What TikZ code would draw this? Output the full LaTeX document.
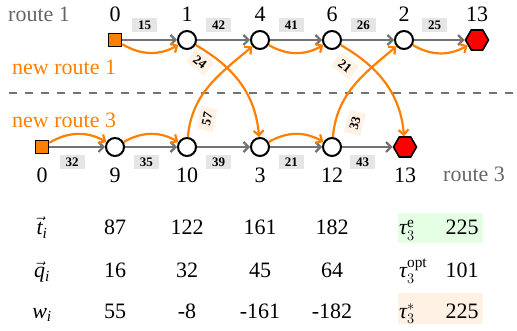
\documentclass[tikz,border=0pt]{standalone}
\usepackage{amsmath}
\usepackage{fontspec}
\setmainfont{Liberation Serif}
\usetikzlibrary{arrows.meta,shapes.geometric}
\begin{document}
\begin{tikzpicture}[x=1pt,y=1pt,
  every node/.style={font=\fontsize{22}{26}\selectfont, inner sep=0pt},
  stop/.style={circle, draw=black, fill=white, line width=2pt, minimum size=18pt},
  depot/.style={rectangle, draw=black, fill=orange, line width=1.6pt, minimum size=13pt},
  sink/.style={regular polygon, regular polygon sides=6, draw=black, fill=red, line width=1.6pt, minimum size=23pt},
  gedge/.style={draw=black!55, line width=2.2pt, -{Straight Barb[length=5pt,width=10pt]}},
  oedge/.style={draw=orange, line width=2.2pt, -{Straight Barb[length=5pt,width=10pt]}},
  wlab/.style={fill=black!10, font=\fontsize{13}{15}\bfseries\selectfont, inner xsep=6pt, inner ysep=3pt},
  clab/.style={fill=orange!10, font=\fontsize{13}{15}\bfseries\selectfont, inner xsep=5pt, inner ysep=4pt},
  rtxt/.style={text=black!60, anchor=base west},
  otxt/.style={text=orange, anchor=base west},
  num/.style={anchor=base},
]
\useasboundingbox (0,0) rectangle (517,-331);

% dashed separator
\coordinate (dl) at (9,-93);
\coordinate (dr) at (517,-93);
\draw[black!55, line width=2.5pt, dash pattern=on 8pt off 8pt] (dl) -- (dr);

% texts
\node[rtxt] (r1) at (8,-22) {route 1};
\node[otxt] (nr1) at (12,-75) {new route 1};
\node[otxt] (nr3) at (12,-128) {new route 3};
\node[rtxt] (r3) at (443,-182) {route 3};

% top route nodes
\node[depot] (A0) at (115,-40) {};
\node[stop] (A1) at (187,-40) {};
\node[stop] (A4) at (260,-40) {};
\node[stop] (A6) at (332,-40) {};
\node[stop] (A2) at (404,-40) {};
\node[sink] (A13) at (477,-40) {};
\node[num] (tA0) at (115,-22) {0};
\node[num] (tA1) at (187,-22) {1};
\node[num] (tA4) at (260,-22) {4};
\node[num] (tA6) at (332,-22) {6};
\node[num] (tA2) at (404,-22) {2};
\node[num] (tA13) at (477,-22) {13};

% bottom route nodes
\node[depot] (B0) at (42,-147) {};
\node[stop] (B9) at (115,-147) {};
\node[stop] (B10) at (187,-147) {};
\node[stop] (B3) at (260,-147) {};
\node[stop] (B12) at (332,-147) {};
\node[sink] (B13) at (405,-147) {};
\node[num] (tB0) at (42,-183) {0};
\node[num] (tB9) at (115,-183) {9};
\node[num] (tB10) at (187,-183) {10};
\node[num] (tB3) at (260,-183) {3};
\node[num] (tB12) at (332,-183) {12};
\node[num] (tB13) at (405,-183) {13};

% gray route edges
\draw[gedge] (A0) -- node[wlab, pos=0.41, yshift=15pt] {15} (A1);
\draw[gedge] (A1) -- node[wlab, pos=0.41, yshift=15pt] {42} (A4);
\draw[gedge] (A4) -- node[wlab, pos=0.41, yshift=15pt] {41} (A6);
\draw[gedge] (A6) -- node[wlab, pos=0.41, yshift=15pt] {26} (A2);
\draw[gedge] (A2) -- node[wlab, pos=0.41, yshift=15pt] {25} (A13);
\draw[gedge] (B0) -- node[wlab, pos=0.41, yshift=-15pt] {32} (B9);
\draw[gedge] (B9) -- node[wlab, pos=0.41, yshift=-15pt] {35} (B10);
\draw[gedge] (B10) -- node[wlab, pos=0.41, yshift=-15pt] {39} (B3);
\draw[gedge] (B3) -- node[wlab, pos=0.41, yshift=-15pt] {21} (B12);
\draw[gedge] (B12) -- node[wlab, pos=0.41, yshift=-15pt] {43} (B13);

% orange new-route edges
\draw[oedge] (A0) to[bend right=30] (A1);
\draw[oedge] (A4) to[bend right=30] (A6);
\draw[oedge] (A2) to[bend right=30] (A13);
\draw[oedge] (B0) to[bend left=30] (B9);
\draw[oedge] (B9) to[bend left=30] (B10);
\draw[oedge] (B3) to[bend left=30] (B12);
\draw[oedge] (A1) to[out=-30, in=95] (B3);
\draw[oedge] (B10) to[out=85, in=-140] (A4);
\draw[oedge] (A6) to[out=-30, in=95] (B13);
\draw[oedge] (B12) to[out=85, in=-140] (A2);
\node[clab, rotate=-38] (l24) at (200,-62) {24};
\node[clab, rotate=78] (l57) at (207,-119) {57};
\node[clab, rotate=-38] (l21) at (345,-66) {21};
\node[clab, rotate=75] (l33) at (355,-123) {33};

% table
\node[fill=green!10, minimum width=85pt, minimum height=30pt] (gbox) at (440.5,-228) {};
\node[fill=orange!10, minimum width=85pt, minimum height=30pt] (obox) at (440.5,-308.5) {};

\node[num] (h1) at (42,-235) {$\vec{\mathit{t}}_{\mathit{i}}$};
\node[num] (h2) at (42,-278) {$\vec{\mathit{q}}_{\mathit{i}}$};
\node[num] (h3) at (42,-318) {$\mathit{w}_{\mathit{i}}$};

\node[num] (t1) at (115,-235) {87};
\node[num] (t2) at (187,-235) {122};
\node[num] (t3) at (260,-235) {161};
\node[num] (t4) at (332,-235) {182};
\node[num] (q1) at (115,-278) {16};
\node[num] (q2) at (187,-278) {32};
\node[num] (q3) at (260,-278) {45};
\node[num] (q4) at (332,-278) {64};
\node[num] (w1) at (115,-318) {55};
\node[num] (w2) at (187,-318) {-8};
\node[num] (w3) at (260,-318) {-161};
\node[num] (w4) at (332,-318) {-182};

\node[anchor=base west] (te) at (399,-235) {$\textit{τ}^{\mathrm{e}}_{3}$};
\node[anchor=base west] (topt) at (399,-278) {$\textit{τ}^{\mathrm{opt}}_{3}$};
\node[anchor=base west] (ts) at (399,-318) {$\textit{τ}^{*}_{3}$};
\node[num] (ve) at (462,-235) {225};
\node[num] (vopt) at (462,-278) {101};
\node[num] (vs) at (462,-318) {225};
\end{tikzpicture}
\end{document}
